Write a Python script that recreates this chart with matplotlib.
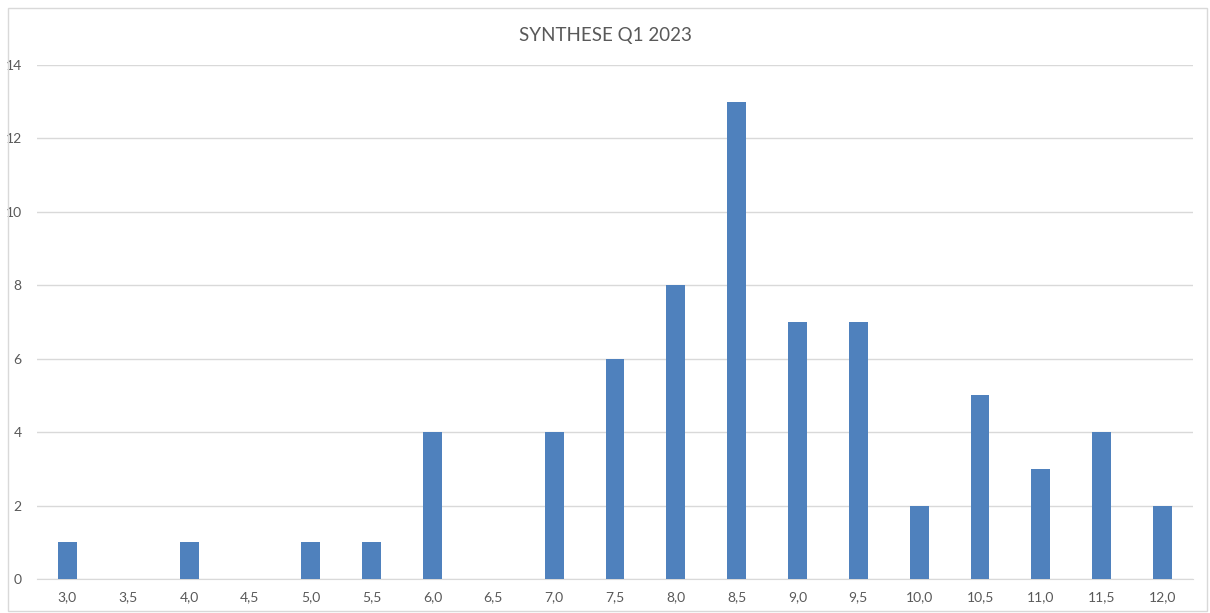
import matplotlib
matplotlib.use('Agg')
import matplotlib.pyplot as plt
from matplotlib.patches import Rectangle

plt.rcParams['font.family'] = ['Lato', 'DejaVu Sans']

categories = ['3,0', '3,5', '4,0', '4,5', '5,0', '5,5', '6,0', '6,5', '7,0', '7,5',
              '8,0', '8,5', '9,0', '9,5', '10,0', '10,5', '11,0', '11,5', '12,0']
counts = [1, 0, 1, 0, 1, 1, 4, 0, 4, 6, 8, 13, 7, 7, 2, 5, 3, 4, 2]
yticks = [0, 2, 4, 6, 8, 10, 12, 14]

W, H = 1210, 613
fig = plt.figure(figsize=(W / 100, H / 100), dpi=100)
fig.patch.set_facecolor('white')

# light frame around the whole chart
fig.add_artist(Rectangle((8 / W, 2 / H), 1199 / W, 603 / H, transform=fig.transFigure,
                         fill=False, edgecolor='#d9d9d9', linewidth=1))

ax = fig.add_axes([37 / W, 1 - 579 / H, (1193 - 37) / W, (579 - 65) / H])
x = range(len(categories))
ax.bar(x, counts, width=0.31, color='#4f81bd', zorder=3)

ax.set_xlim(-0.5, len(categories) - 0.5)
ax.set_ylim(0, 14)
ax.set_yticks(yticks)
ax.set_xticks(list(x))
ax.set_xticklabels(categories)
ax.grid(axis='y', color='#d9d9d9', linewidth=1, zorder=0)
for s in ['top', 'right', 'left']:
    ax.spines[s].set_visible(False)
ax.spines['bottom'].set_color('#d9d9d9')
ax.tick_params(axis='both', length=0, labelsize=10, colors='#595959')
ax.tick_params(axis='x', pad=9)
ax.tick_params(axis='y', pad=11)

fig.text(0.5, 1 - 35 / H, 'SYNTHESE Q1 2023', ha='center', va='center',
         fontsize=13.5, color='#595959')

fig.savefig('out.png', dpi=100)
